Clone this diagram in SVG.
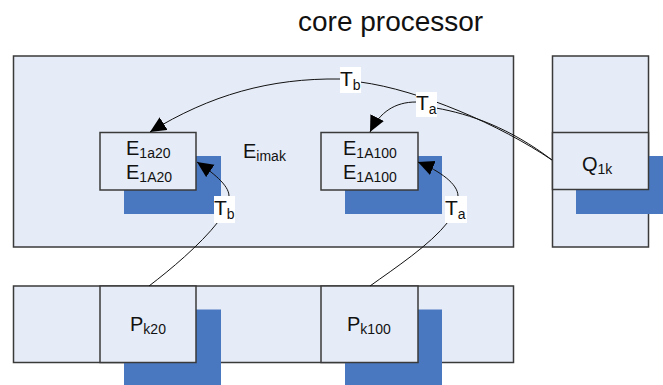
<svg xmlns="http://www.w3.org/2000/svg" width="663" height="385" viewBox="0 0 663 385">
<style>
.box{fill:#E6ECF7;stroke:#3a3a3a;stroke-width:1.5}
.sh{fill:#4A78C0}
.t{font-family:"Liberation Sans",Arial,sans-serif;font-size:20px;fill:#111}
.s{font-size:14px}
.lbl{fill:#fff}
.c{fill:none;stroke:#111;stroke-width:1}
</style>
<defs>
<marker id="ah" markerUnits="userSpaceOnUse" markerWidth="18" markerHeight="16" refX="16" refY="7.5" orient="auto">
<path d="M0,0 L16,7.5 L0,15 z" fill="#000"/>
</marker>
</defs>
<rect width="663" height="385" fill="#fff"/>
<text x="298" y="31" style="font-family:'Liberation Sans',Arial,sans-serif;font-size:28px;fill:#111">core processor</text>

<g id="core">
<rect class="box" x="13.5" y="56" width="500" height="191"/>
<text class="t" x="243" y="158">E<tspan class="s" dy="3">imak</tspan></text>
</g>
<g id="qcol">
<rect class="box" x="552.5" y="56" width="96" height="191"/>
</g>
<g id="strip">
<rect class="box" x="13.5" y="286" width="500" height="76.5"/>
</g>

<g id="E20">
<rect class="sh" x="124" y="156" width="97" height="58"/>
<rect class="box" x="100" y="132.5" width="96" height="57.5"/>
<text class="t" x="126" y="155">E<tspan class="s" dy="3">1a20</tspan></text>
<text class="t" x="126" y="179">E<tspan class="s" dy="3">1A20</tspan></text>
</g>
<g id="E100">
<rect class="sh" x="345" y="156" width="97" height="58"/>
<rect class="box" x="321" y="132.5" width="97" height="57.5"/>
<text class="t" x="343" y="155">E<tspan class="s" dy="3">1A100</tspan></text>
<text class="t" x="343" y="179">E<tspan class="s" dy="3">1A100</tspan></text>
</g>
<g id="Q">
<rect class="sh" x="576" y="156" width="87" height="58"/>
<rect class="box" x="552.5" y="132.5" width="96" height="57"/>
<text class="t" x="582" y="171">Q<tspan class="s" dy="3">1k</tspan></text>
</g>
<g id="P20">
<rect class="sh" x="124" y="309.5" width="97" height="76"/>
<rect class="box" x="100" y="286" width="96" height="76.5"/>
<text class="t" x="130" y="331">P<tspan class="s" dy="3">k20</tspan></text>
</g>
<g id="P100">
<rect class="sh" x="345" y="309.5" width="97" height="76"/>
<rect class="box" x="321" y="286" width="97" height="76.5"/>
<text class="t" x="347" y="331">P<tspan class="s" dy="3">k100</tspan></text>
</g>

<g id="connectors">
<path class="c" d="M552,160 C500,125 420,90 360,82"/>
<path class="c" d="M340,79 C270,78 210,95 150,132" marker-end="url(#ah)"/>
<path class="c" d="M552,160 C510,128 470,114 436,108"/>
<path class="c" d="M416,102 C395,102 380,112 370,132" marker-end="url(#ah)"/>
<path class="c" d="M149,286 C170,270 200,245 218,222"/>
<path class="c" d="M229,196 C229,185 212,172 197,162" marker-end="url(#ah)"/>
<path class="c" d="M370,286 C395,268 430,245 448,222"/>
<path class="c" d="M458,196 C458,184 440,171 418,162" marker-end="url(#ah)"/>

<rect class="lbl" x="340" y="67" width="21" height="26"/>
<text class="t" x="340" y="86" style="font-size:21px">T<tspan class="s" dy="4">b</tspan></text>
<rect class="lbl" x="416" y="92" width="21" height="25"/>
<text class="t" x="416" y="110" style="font-size:21px">T<tspan class="s" dy="4">a</tspan></text>
<rect class="lbl" x="214" y="196" width="21" height="27"/>
<text class="t" x="214" y="215" style="font-size:21px">T<tspan class="s" dy="4">b</tspan></text>
<rect class="lbl" x="445" y="196" width="22" height="27"/>
<text class="t" x="445" y="215" style="font-size:21px">T<tspan class="s" dy="4">a</tspan></text>
</g>
</svg>
